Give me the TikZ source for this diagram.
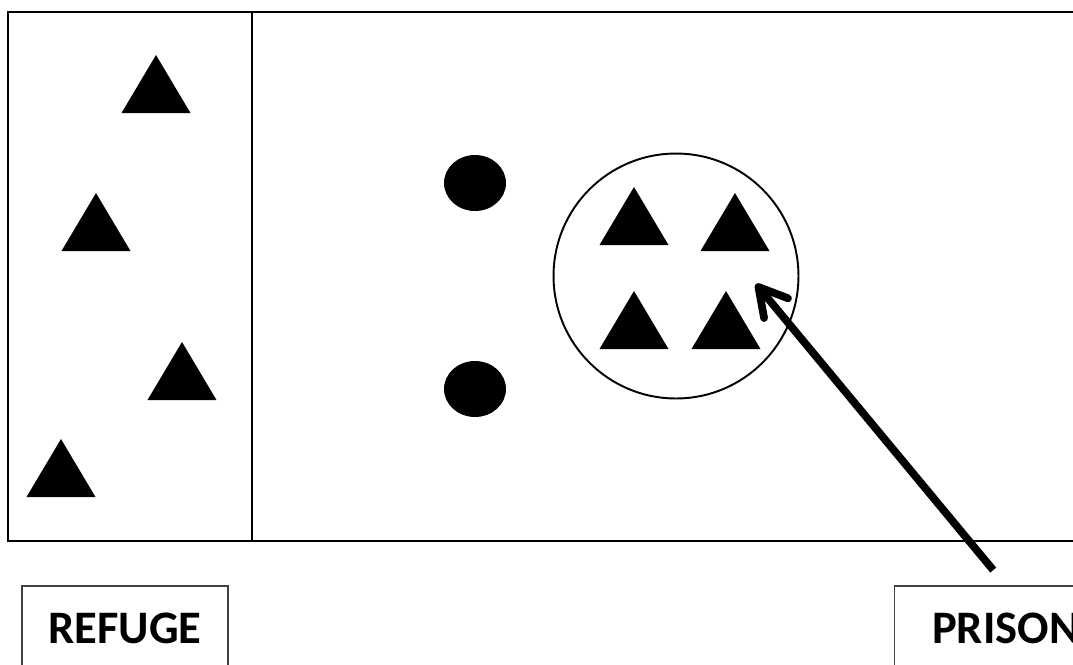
\documentclass[tikz,border=0pt]{standalone}
\usepackage{fontspec}
\setmainfont{Carlito}
\usetikzlibrary{arrows.meta, positioning}

\begin{document}
\begin{tikzpicture}[x=0.02cm, y=-0.02cm,
    >={Straight Barb[round, length=0.55cm, width=0.62cm]},
    labelbox/.style={draw=black!75, line width=0.6pt, minimum height=1.68cm,
      font=\bfseries\fontsize{26.5}{30}\selectfont}]
  \useasboundingbox (0,0) rectangle (1073,664);
  \clip (0,0) rectangle (1073,664);

  % Arena frame and refuge wall
  \draw[line width=1.4pt] (1100,12) -- (8,12) -- (8,541) -- (1100,541);
  \draw[line width=1.4pt] (252,12) -- (252,541);

  % Triangles in the refuge (apex points)
  \foreach \x/\y in {156/55, 96/193, 182/342, 61/439}
    \fill (\x-34.5,\y+58) -- (\x,\y) -- (\x+34.5,\y+58) -- cycle;

  % Dots
  \fill (475,183) ellipse [x radius=0.62cm, y radius=0.56cm];
  \fill (475,389) ellipse [x radius=0.62cm, y radius=0.56cm];

  % Prison circle
  \node[draw, circle, line width=1.1pt, minimum size=4.9cm] (jail) at (676,276) {};
  \foreach \x/\y in {634/187, 735/193, 634/291, 726/291}
    \fill (\x-34.5,\y+58) -- (\x,\y) -- (\x+34.5,\y+58) -- cycle;

  % Labels
  \node[labelbox, minimum width=4.12cm] (refuge) at (125,628) {REFUGE};
  \node[labelbox, minimum width=4.45cm] (prison) at (1006,628) {PRISON};

  % Arrow into the prison
  \coordinate (tip) at (756,284);
  \draw[->, line width=4.4pt, shorten <=0.4cm] (prison.north) -- (tip);
\end{tikzpicture}
\end{document}
